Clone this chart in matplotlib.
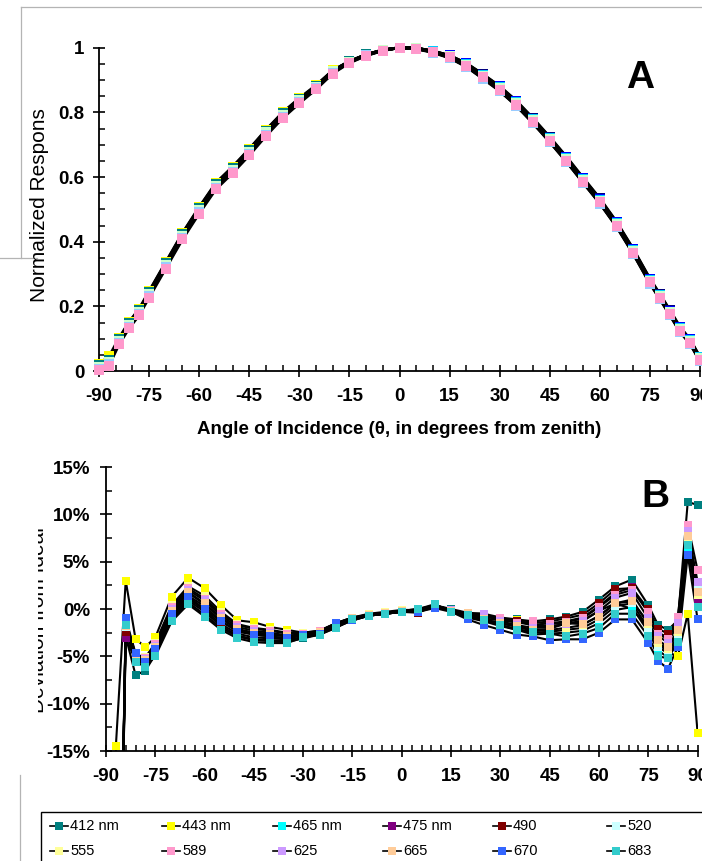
import numpy as np
import matplotlib
matplotlib.use("Agg")
import matplotlib.pyplot as plt
from matplotlib import font_manager
from matplotlib.ticker import MultipleLocator, FuncFormatter
from matplotlib.lines import Line2D
from matplotlib.patches import Rectangle

plt.rcParams['font.family'] = ['Liberation Sans', 'DejaVu Sans']
plt.rcParams['axes.unicode_minus'] = False

# condensed face for the legend if there is one
installed = {f.name for f in font_manager.fontManager.ttflist}
legend_family = 'Liberation Sans Narrow' if 'Liberation Sans Narrow' in installed else 'Liberation Sans'

# angles of incidence (deg from zenith)
angles = [-90, -87, -84, -81, -78, -75, -70, -65, -60, -55, -50, -45, -40, -35, -30,
          -25, -20, -15, -10, -5, 0, 5, 10, 15, 20, 25, 30, 35, 40, 45, 50, 55, 60,
          65, 70, 75, 78, 81, 84, 87, 90]

# ---- panel A : normalized response (one list per series)
resp_1 = [.015, .030, .095, .145, .185, .240, .330, .420, .500, .575, .625, .680, .740, .795, .840, .881, .928, .957, .978, .993, 1.0,
          .999, .990, .976, .952, .918, .881, .836, .782, .724, .663, .598, .534, .462, .378, .286, .238, .188, .137, .098, .040]
resp_2 = [.020, .035, .100, .150, .190, .245, .335, .425, .505, .580, .630, .685, .744, .798, .842, .882, .929, .958, .979, .993, 1.0,
          .997, .986, .969, .942, .905, .867, .821, .767, .709, .648, .583, .519, .447, .363, .271, .223, .173, .122, .085, .030]
resp_3 = [.022, .045, .102, .152, .192, .247, .337, .427, .507, .582, .632, .687, .746, .800, .844, .884, .930, .958, .979, .993, 1.0,
          .999, .989, .975, .950, .915, .877, .832, .778, .720, .659, .594, .530, .458, .374, .282, .234, .184, .120, .092, .030]
resp_4 = [.014, .029, .094, .144, .184, .239, .329, .419, .499, .574, .624, .679, .739, .794, .839, .880, .927, .957, .978, .993, 1.0,
          .999, .989, .974, .949, .914, .876, .830, .776, .718, .657, .592, .528, .456, .372, .280, .232, .182, .131, .094, .039]
resp_5 = [.016, .031, .096, .146, .186, .241, .331, .421, .501, .576, .626, .681, .741, .796, .840, .880, .928, .957, .978, .993, 1.0,
          .998, .988, .972, .946, .910, .872, .826, .772, .714, .653, .588, .524, .452, .368, .276, .228, .178, .127, .090, .036]
resp_6 = [.010, .025, .090, .140, .180, .235, .325, .415, .495, .570, .620, .675, .735, .790, .835, .877, .925, .955, .977, .992, 1.0,
          .998, .988, .972, .946, .910, .872, .826, .772, .714, .653, .588, .524, .452, .368, .276, .228, .178, .127, .090, .036]
resp_7 = [.018, .033, .098, .148, .188, .243, .333, .423, .503, .578, .628, .683, .743, .797, .841, .881, .929, .958, .979, .993, 1.0,
          .997, .987, .970, .943, .907, .869, .823, .769, .711, .650, .585, .521, .449, .365, .273, .225, .175, .124, .087, .033]
resp_8 = [.008, .023, .088, .138, .178, .233, .323, .413, .493, .568, .618, .673, .733, .788, .834, .876, .924, .955, .977, .992, 1.0,
          .999, .990, .976, .952, .917, .880, .834, .780, .722, .661, .596, .532, .460, .376, .284, .236, .186, .135, .098, .044]
resp_9 = [.012, .027, .092, .142, .182, .237, .327, .417, .497, .572, .622, .677, .737, .792, .837, .878, .926, .956, .977, .992, 1.0,
          .999, .989, .975, .950, .915, .878, .832, .778, .720, .659, .594, .530, .458, .374, .282, .234, .184, .133, .096, .042]
resp_10 = [.013, .028, .093, .143, .183, .238, .328, .418, .498, .573, .623, .678, .738, .793, .838, .879, .927, .956, .978, .992, 1.0,
           .999, .988, .974, .948, .913, .875, .829, .775, .717, .656, .591, .527, .455, .371, .279, .231, .181, .130, .093, .039]
resp_11 = [.006, .021, .086, .136, .176, .231, .321, .411, .491, .566, .616, .671, .731, .786, .832, .874, .922, .954, .976, .991, 1.0,
           .996, .985, .968, .941, .904, .866, .820, .766, .708, .647, .582, .518, .446, .362, .270, .222, .172, .121, .084, .030]
resp_12 = [.004, .017, .082, .132, .172, .227, .317, .407, .487, .562, .612, .667, .727, .782, .828, .871, .920, .953, .975, .991, 1.0,
           .997, .987, .970, .944, .908, .870, .824, .770, .712, .651, .586, .522, .450, .366, .274, .226, .176, .125, .088, .034]
resp_colors = ['#000080', '#FF00FF', '#FFFF00', '#00FFFF', '#800080', '#800000',
               '#008080', '#0000FF', '#00CCFF', '#CCFFCC', '#99CCFF', '#FF99CC']

# ---- panel B : deviation from ideal cosine (%)
wavelengths = ['412 nm', '443 nm', '465 nm', '475 nm', '490', '520',
               '555', '589', '625', '665', '670', '683']
dev_412 = [None, -60, -2.9, -7.0, -6.5, -4.8, -1.1, 0.7, -0.6, -2.0, -2.9, -3.3, -3.4, -3.5, -3.1, -2.7, -1.9, -1.2, -0.7, -0.5, -0.3,
           -0.1, 0.4, 0.0, -0.4, -0.5, -0.9, -1.1, -1.3, -1.1, -0.8, -0.3, 1.0, 2.4, 3.1, 0.4, -1.7, -2.2, -1.2, 11.3, 11.0]
dev_443 = [None, -14.5, 3.0, -3.2, -4.0, -3.0, 1.3, 3.3, 2.2, 0.4, -1.2, -1.4, -1.9, -2.2, -2.5, -2.3, -1.5, -0.9, -0.6, -0.4, -0.2,
           0.0, 0.3, -0.1, -0.6, -1.0, -1.2, -1.2, -1.8, -1.8, -1.6, -1.2, -0.2, 0.6, 0.0, -1.9, -3.6, -4.6, -5.0, -0.5, -13.1]
dev_465 = [None, -60, -2.2, -5.2, -5.6, -4.3, -0.4, 1.4, 0.3, -1.3, -2.3, -2.7, -2.9, -3.1, -2.8, -2.5, -1.7, -1.1, -0.7, -0.5, -0.3,
           -0.3, 0.2, -0.2, -0.9, -1.3, -1.8, -2.2, -2.7, -2.6, -2.5, -2.3, -1.5, -0.1, 0.2, -2.4, -4.4, -5.1, -3.0, 6.5, 0.8]
dev_475 = [None, -60, -3.1, -5.4, -5.9, -4.7, -0.9, 0.9, -0.3, -1.8, -2.8, -3.2, -3.3, -3.4, -3.0, -2.7, -1.9, -1.2, -0.7, -0.5, -0.3,
           -0.1, 0.4, -0.1, -0.5, -0.7, -1.2, -1.4, -1.7, -1.5, -1.3, -0.9, 0.3, 1.7, 2.3, -0.4, -2.5, -3.0, -1.4, 8.0, 1.1]
dev_490 = [None, -60, -2.4, -5.3, -5.8, -4.5, -0.7, 1.1, -0.1, -1.6, -2.6, -3.0, -3.1, -3.2, -3.0, -2.6, -1.8, -1.1, -0.7, -0.5, -0.3,
           -0.4, 0.4, -0.1, -0.5, -0.6, -1.0, -1.3, -1.5, -1.3, -1.0, -0.6, 0.6, 2.1, 2.2, 0.0, -2.1, -2.6, -1.1, 8.5, 2.4]
dev_520 = [None, -60, -1.9, -5.1, -5.5, -4.1, -0.3, 1.7, 0.5, -1.0, -2.2, -2.6, -2.7, -2.9, -2.8, -2.5, -1.7, -1.0, -0.6, -0.4, -0.2,
           -0.2, 0.2, -0.2, -0.8, -1.2, -1.7, -2.1, -2.5, -2.4, -2.2, -2.0, -1.1, 0.3, 0.6, -2.0, -4.0, -4.7, -2.7, 8.4, 2.2]
dev_555 = [None, -60, -1.2, -4.8, -5.1, -3.6, 0.4, 2.4, 1.4, -0.3, -1.6, -2.0, -2.2, -2.5, -2.5, -2.3, -1.5, -0.9, -0.5, -0.3, -0.1,
           -0.1, 0.3, -0.1, -0.7, -1.1, -1.5, -1.9, -2.3, -2.2, -2.0, -1.7, -0.7, 0.6, 1.0, -1.6, -3.6, -4.2, -2.4, 7.2, 1.5]
dev_589 = [None, -60, -1.4, -4.9, -5.2, -3.7, 0.2, 2.2, 1.1, -0.5, -1.7, -2.1, -2.3, -2.6, -2.6, -2.3, -1.5, -0.9, -0.6, -0.4, -0.2,
           0.0, 0.4, -0.1, -0.6, -0.8, -1.0, -1.5, -1.3, -1.6, -1.4, -1.0, 0.2, 1.5, 2.0, -0.3, -2.6, -3.2, -0.8, 8.9, 4.1]
dev_625 = [None, -60, -1.6, -5.0, -5.3, -3.9, 0.0, 2.0, 0.9, -0.7, -1.9, -2.3, -2.5, -2.8, -2.7, -2.4, -1.6, -1.0, -0.6, -0.4, -0.2,
           -0.1, 0.3, -0.1, -0.5, -0.5, -1.3, -1.7, -2.0, -1.9, -1.6, -1.3, -0.2, 1.2, 1.7, -1.0, -2.8, -3.6, -1.5, 8.2, 2.9]
dev_665 = [None, -60, -1.8, -5.1, -5.4, -4.0, -0.2, 1.8, 0.6, -0.9, -2.1, -2.5, -2.6, -2.9, -2.7, -2.4, -1.6, -1.0, -0.6, -0.4, -0.2,
           -0.2, 0.2, -0.2, -0.4, -1.1, -1.5, -1.8, -2.2, -2.1, -1.5, -1.6, -0.8, 0.6, 0.8, -1.4, -3.3, -4.0, -2.2, 7.7, 1.8]
dev_670 = [None, -60, -1.0, -4.7, -5.6, -4.2, -0.5, 1.3, 0.0, -1.3, -2.4, -2.7, -2.9, -3.1, -2.7, -2.6, -1.5, -1.2, -0.7, -0.5, -0.3,
           -0.3, 0.1, -0.3, -1.1, -1.7, -2.2, -2.7, -2.9, -3.3, -3.2, -3.2, -2.5, -1.1, -1.1, -3.6, -5.5, -6.3, -4.0, 5.7, -1.1]
dev_683 = [None, -60, -1.7, -5.6, -6.1, -5.0, -1.3, 0.5, -0.8, -2.2, -3.1, -3.5, -3.6, -3.6, -3.0, -2.7, -2.0, -1.1, -0.7, -0.5, -0.3,
           0.0, 0.5, -0.3, -0.6, -1.2, -1.7, -2.2, -2.4, -2.6, -2.9, -2.6, -2.0, -0.5, -0.5, -2.9, -5.0, -5.2, -3.5, 6.8, 0.2]
dev_colors = ['#008080', '#FFFF00', '#00FFFF', '#800080', '#800000', '#CCFFFF',
              '#FFFF99', '#FF99CC', '#CC99FF', '#FFCC99', '#3366FF', '#33CCCC']

resp_series = [resp_1, resp_2, resp_3, resp_4, resp_5, resp_6,
               resp_7, resp_8, resp_9, resp_10, resp_11, resp_12]
dev_series = [dev_412, dev_443, dev_465, dev_475, dev_490, dev_520,
              dev_555, dev_589, dev_625, dev_665, dev_670, dev_683]

W, H = 702, 861
fig = plt.figure(figsize=(W / 100, H / 100), dpi=100)


def style_axis(ax, xminor):
    for s in ['top', 'right']:
        ax.spines[s].set_visible(False)
    for s in ['left', 'bottom']:
        ax.spines[s].set_linewidth(1.3)
    ax.xaxis.set_major_locator(MultipleLocator(15))
    ax.xaxis.set_minor_locator(MultipleLocator(xminor))
    ax.tick_params(which='major', direction='inout', length=9, width=1.2)
    ax.tick_params(which='minor', direction='in', length=4, width=1.1)
    ax.tick_params(axis='x', which='major', pad=8, labelsize=13.5)
    ax.tick_params(axis='y', which='major', pad=6, labelsize=13.5)
    for lab in ax.get_xticklabels() + ax.get_yticklabels():
        lab.set_fontweight('bold')


# panel A
axA = fig.add_axes([99 / W, 1 - 371 / H, 601 / W, 323.3 / H])
x = np.array(angles, dtype=float)
for ys in resp_series:
    axA.plot(x, ys, color='black', lw=2.0, zorder=2, clip_on=False)
for ys, c in zip(resp_series, resp_colors):
    axA.plot(x, ys, ls='none', marker='s', ms=6.5, mfc=c, mec=c, mew=0,
             zorder=3, clip_on=False)
axA.set_xlim(-90, 90)
axA.set_ylim(0, 1)
axA.yaxis.set_major_locator(MultipleLocator(0.2))
axA.yaxis.set_minor_locator(MultipleLocator(0.05))
axA.yaxis.set_major_formatter(FuncFormatter(lambda v, p: '%g' % round(v, 1)))
axA.xaxis.set_major_formatter(FuncFormatter(lambda v, p: '%d' % v))
style_axis(axA, 5)
axA.set_xlabel('Angle of Incidence (\u03b8, in degrees from zenith)',
               fontsize=13.5, fontweight='bold', labelpad=11)

# panel B
axB = fig.add_axes([106 / W, 1 - 751 / H, 591.6 / W, 284 / H])
for ys in dev_series:
    axB.plot(x, np.array(ys, dtype=float), color='black', lw=1.5, zorder=2)
for ys, c in zip(dev_series, dev_colors):
    axB.plot(x, np.array(ys, dtype=float), ls='none', marker='s', ms=6,
             mfc=c, mec=c, mew=0, zorder=3, clip_on=False)
axB.set_xlim(-90, 90)
axB.set_ylim(-15, 15)
axB.yaxis.set_major_locator(MultipleLocator(5))
axB.yaxis.set_minor_locator(MultipleLocator(2.5))
axB.yaxis.set_major_formatter(FuncFormatter(lambda v, p: '%d%%' % round(v)))
axB.xaxis.set_major_formatter(FuncFormatter(lambda v, p: '%d' % v))
style_axis(axB, 3)
axB.tick_params(axis='y', which='major', pad=7)

# panel letters and y labels
fig.text(640 / W, 1 - 78 / H, 'A', fontsize=28, fontweight='bold', ha='center', va='center')
fig.text(655 / W, 1 - 497 / H, 'B', fontsize=28, fontweight='bold', ha='center', va='center')
fig.text(40 / W, 1 - 205 / H, 'Normalized Respons', rotation=90, fontsize=15,
         ha='center', va='center')
fig.text(38.5 / W, 1 - 620 / H, 'Deviation from Ideal', rotation=90, fontsize=15,
         ha='center', va='center')
# the original shows only the lower half of this label
fig.add_artist(Rectangle((22 / W, 1 - 740 / H), 15.5 / W, 240 / H, facecolor='white',
                         edgecolor='none', transform=fig.transFigure, zorder=5))

# grey frame fragments of the original page
grey = '#b4b4b4'
for xs, ys in [([20.7, W], [7, 7]), ([20.7, 20.7], [7, 258]), ([0, 37], [258, 258]),
               ([20, 20], [775, H])]:
    fig.add_artist(Line2D([v / W for v in xs], [1 - v / H for v in ys],
                          color=grey, lw=0.9, transform=fig.transFigure))

# legend box (entries in row order as in the original)
fig.add_artist(Rectangle((41 / W, -0.02), 1.0, 0.02 + (1 - 812 / H), fill=False,
                         edgecolor='black', lw=1.0, transform=fig.transFigure))
col_x = [50, 162, 273, 383, 493, 607]
row_y = [826, 851]
for i, (lab, c) in enumerate(zip(wavelengths, dev_colors)):
    cx = col_x[i % 6]
    cy = 1 - row_y[i // 6] / H
    fig.add_artist(Line2D([cx / W, (cx + 18) / W], [cy, cy], color='black', lw=1.2,
                          transform=fig.transFigure))
    fig.add_artist(Line2D([(cx + 9) / W], [cy], ls='none', marker='s', ms=5.5,
                          mfc=c, mec=c, mew=0, transform=fig.transFigure))
    fig.text((cx + 20) / W, cy, lab, fontsize=10.5, family=legend_family,
             ha='left', va='center')

fig.savefig('out.png', dpi=100)
